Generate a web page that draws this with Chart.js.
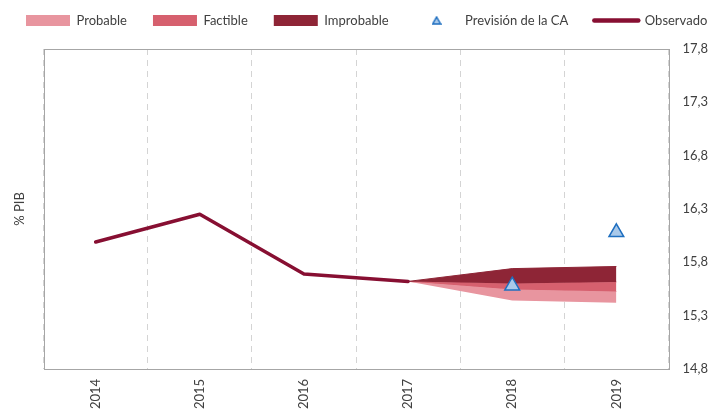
<!DOCTYPE html>
<html>
<head>
<meta charset="utf-8">
<script src="https://cdn.jsdelivr.net/npm/chart.js@4.4.1/dist/chart.umd.min.js"></script>
<style>
  html, body { margin: 0; padding: 0; background: #fff; }
  #wrap { width: 715px; height: 414px; }
</style>
</head>
<body>
<div id="wrap"><canvas id="chart" width="715" height="414"></canvas></div>
<script>
// Chart data
const years = ["2014", "2015", "2016", "2017", "2018", "2019"];
const observado = [15.99, 16.25, 15.69, 15.62, null, null];
const prevision = [null, null, null, null, 15.58, 16.08];
// fan bands: upper edge of each band, plus the lower edge of the last one
const improbableTop = [null, null, null, 15.62, 15.74, 15.76];
const factibleTop = [null, null, null, 15.62, 15.6, 15.615];
const probableTop = [null, null, null, 15.62, 15.545, 15.525];
const probableBottom = [null, null, null, 15.62, 15.44, 15.42];
const yTicks = [14.8, 15.3, 15.8, 16.3, 16.8, 17.3, 17.8];
const legendOrder = ["Probable", "Factible", "Improbable", "Previsión de la CA", "Observado"];

Chart.defaults.font.family = "Lato, 'Open Sans', sans-serif";
Chart.defaults.font.size = 13;
Chart.defaults.color = "#404040";

// small triangle used as the legend marker
const tri = document.createElement("canvas");
tri.width = 10;
tri.height = 9;
const t = tri.getContext("2d");
t.beginPath();
t.moveTo(5, 1);
t.lineTo(9, 8);
t.lineTo(1, 8);
t.closePath();
t.fillStyle = "#a9c9ea";
t.fill();
t.strokeStyle = "#1f6fc0";
t.lineWidth = 1.5;
t.stroke();

// box around the plot area
const frame = {
  id: "frame",
  beforeDatasetsDraw(chart) {
    const { ctx, chartArea: a } = chart;
    ctx.save();
    ctx.strokeStyle = "#a6a6a6";
    ctx.lineWidth = 1;
    ctx.strokeRect(Math.round(a.left) + 0.5, Math.round(a.top) + 0.5,
      Math.round(a.right - a.left), Math.round(a.bottom - a.top));
    ctx.restore();
  }
};

// keep the legend on one row and leave a gap under it
const legendFit = {
  id: "legendFit",
  beforeInit(chart) {
    const legend = chart.legend;
    const fit = legend.fit;
    legend.fit = function () {
      const w = this.maxWidth;
      this.maxWidth = w + 100;
      fit.call(this);
      this.maxWidth = w;
      this.width = Math.min(this.width, w);
      this.height += 12;
    };
  },
  beforeDraw(chart) {
    chart.legend.left = 0;
    chart.legend.right = 820;
  }
};

function band(label, data, color) {
  return {
    label: label,
    data: data,
    backgroundColor: color,
    borderColor: color,
    borderWidth: 1,
    pointRadius: 0,
    pointStyle: "rect",
    fill: "+1"
  };
}

const ctx = document.getElementById("chart").getContext("2d");
new Chart(ctx, {
  type: "line",
  data: {
    labels: years,
    datasets: [
      {
        label: "Previsión de la CA",
        data: prevision,
        showLine: false,
        pointStyle: "triangle",
        pointRadius: 8.5,
        backgroundColor: "#a9c9ea",
        borderColor: "#1f6fc0",
        borderWidth: 1.5
      },
      {
        label: "Observado",
        data: observado,
        borderColor: "#870f32",
        backgroundColor: "#870f32",
        borderWidth: 3.5,
        borderCapStyle: "round",
        borderJoinStyle: "round",
        pointRadius: 0,
        pointStyle: "line",
        fill: false
      },
      band("Improbable", improbableTop, "#8e2536"),
      band("Factible", factibleTop, "#d6606e"),
      band("Probable", probableTop, "#e8959f"),
      {
        label: "",
        data: probableBottom,
        borderColor: "rgba(0,0,0,0)",
        borderWidth: 1,
        pointRadius: 0,
        fill: false
      }
    ]
  },
  options: {
    responsive: false,
    animation: false,
    layout: { padding: { top: -12, right: -7, bottom: -5, left: 8 } },
    plugins: {
      tooltip: { enabled: false },
      legend: {
        onClick: null,
        align: "start",
        labels: {
          usePointStyle: true,
          pointStyleWidth: 44,
          boxHeight: 11,
          padding: 26,
          color: "#404040",
          generateLabels(chart) {
            const sets = chart.data.datasets;
            return legendOrder.map((name) => {
              const i = sets.findIndex((d) => d.label === name);
              const d = sets[i];
              return {
                text: name,
                datasetIndex: i,
                fillStyle: d.backgroundColor,
                strokeStyle: name === "Observado" ? d.borderColor : "rgba(0,0,0,0)",
                lineWidth: name === "Observado" ? 4.5 : 0,
                lineCap: "round",
                pointStyle: name === "Previsión de la CA" ? tri : d.pointStyle,
                fontColor: "#404040",
                hidden: false
              };
            });
          }
        }
      }
    },
    scales: {
      x: {
        offset: true,
        grid: { offset: true, drawTicks: false, color: "#d4d4d4" },
        border: { display: false, dash: [6, 5] },
        ticks: { minRotation: 90, maxRotation: 90, padding: 10 }
      },
      y: {
        position: "right",
        min: 14.8,
        max: 17.8,
        grid: { display: false, drawTicks: false },
        border: { display: false },
        afterBuildTicks(scale) {
          scale.ticks = yTicks.map((v) => ({ value: v }));
        },
        ticks: {
          padding: 14,
          callback: (v) => Number(v).toFixed(1).replace(".", ",")
        }
      },
      yLeft: {
        position: "left",
        grid: { display: false },
        border: { display: false },
        ticks: { display: false },
        title: { display: true, text: "% PIB", padding: { top: 4, bottom: 8 } }
      }
    }
  },
  plugins: [frame, legendFit]
});
</script>
</body>
</html>
